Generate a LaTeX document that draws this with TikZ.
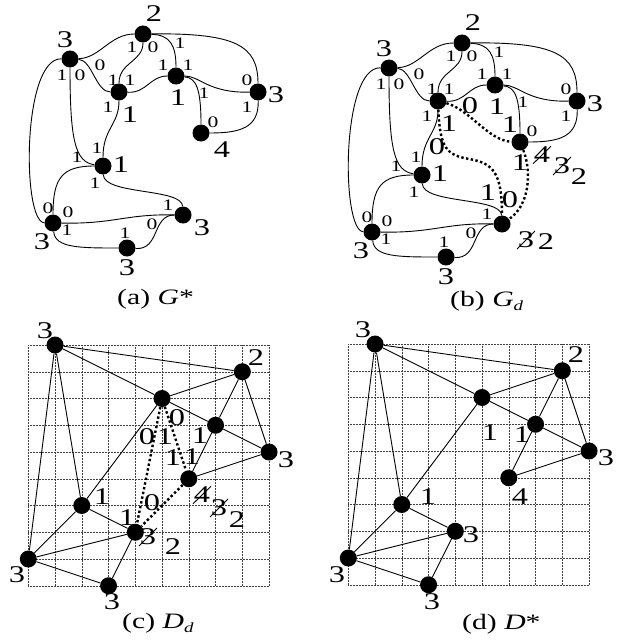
\documentclass[tikz,border=0pt]{standalone}
\usepackage{fontspec}
\usepackage{graphicx}
\setmainfont{Liberation Serif}
\newsavebox\lblbox
\tikzset{
  vtx/.style={circle,fill,inner sep=0pt,minimum size=17pt},
  edg/.style={line width=0.9pt},
  dotedg/.style={line width=2.4pt,dash pattern=on 2.4pt off 2.4pt},
  wide/.style={execute at begin node={\setbox\lblbox\hbox\bgroup},
    execute at end node={\egroup\scalebox{1.35}[1]{\usebox\lblbox}}},
  big/.style={wide,inner sep=0pt,font=\fontsize{24}{24}\selectfont},
  sml/.style={wide,inner sep=0pt,font=\fontsize{16}{16}\selectfont},
  captxt/.style={wide,inner sep=0pt,anchor=base west,font=\fontsize{22}{22}\selectfont},
  struck/.style={big,inner sep=1pt,path picture={\draw[line width=0.9pt] (path picture bounding box.south west) -- (path picture bounding box.north east);}},
  gridln/.style={densely dotted,line width=0.5pt,black!75}
}
% graph G* (panels a and b)
\newcommand\ggraph{%
\node[vtx] (A) at (70,59) {};
\node[vtx] (B) at (143,34) {};
\node[vtx] (C) at (119,92) {};
\node[vtx] (D) at (176,76) {};
\node[vtx] (E) at (258,92) {};
\node[vtx] (F) at (201,133) {};
\node[vtx] (G) at (103,166) {};
\node[vtx] (H) at (53,223) {};
\node[vtx] (I) at (183,215) {};
\node[vtx] (J) at (127,248) {};
\draw[edg] (A) .. controls (100,58) and (110,34) .. (B);
\draw[edg] (B) .. controls (143,62) and (119,62) .. (C);
\draw[edg] (B) .. controls (170,35) and (176,45) .. (D);
\draw[edg] (B) .. controls (235,33) and (258,45) .. (E);
\draw[edg] (A) .. controls (92,60) and (96,92) .. (C);
\draw[edg] (C) .. controls (147,93) and (150,76) .. (D);
\draw[edg] (D) .. controls (200,76) and (208,93) .. (E);
\draw[edg] (D) .. controls (196,78) and (201,88) .. (F);
\draw[edg] (E) .. controls (259,128) and (240,133) .. (F);
\draw[edg] (C) .. controls (119,125) and (103,128) .. (G);
\draw[edg] (A) .. controls (70,140) and (75,162) .. (G);
\draw[edg] (A) .. controls (22,58) and (22,222) .. (H);
\draw[edg] (G) .. controls (62,166) and (53,178) .. (H);
\draw[edg] (G) .. controls (104,195) and (182,188) .. (I);
\draw[edg] (H) .. controls (115,224) and (125,214) .. (I);
\draw[edg] (H) .. controls (55,248) and (80,248) .. (J);
\draw[edg] (J) .. controls (160,250) and (152,215) .. (I);
\node[big] (lA) at (65,40) {3};
\node[big] (lB) at (154,14) {2};
\node[big] (lC) at (130,115) {1};
\node[big] (lD) at (178,98) {1};
\node[big] (lE) at (276,95) {3};
\node[big] (lG) at (121,165) {1};
\node[big] (lH) at (42,242) {3};
\node[big] (lJ) at (127,268) {3};
\node[sml] (s1) at (62,75) {1};
\node[sml] (s2) at (80,75) {0};
\node[sml] (s3) at (100,65) {0};
\node[sml] (s4) at (132,47) {1};
\node[sml] (s5) at (153,47) {0};
\node[sml] (s6) at (180,43) {1};
\node[sml] (s7) at (113,80) {1};
\node[sml] (s8) at (130,80) {1};
\node[sml] (s9) at (108,107) {1};
\node[sml] (s10) at (163,65) {1};
\node[sml] (s11) at (188,65) {1};
\node[sml] (s12) at (204,93) {1};
\node[sml] (s13) at (247,80) {0};
\node[sml] (s14) at (247,107) {1};
\node[sml] (s15) at (213,122) {0};
\node[sml] (s16) at (77,157) {1};
\node[sml] (s17) at (97,148) {1};
\node[sml] (s18) at (95,183) {1};
\node[sml] (s19) at (48,208) {0};
\node[sml] (s20) at (68,212) {0};
\node[sml] (s21) at (67,230) {1};
\node[sml] (s22) at (168,205) {1};
\node[sml] (s23) at (152,224) {0};
\node[sml] (s24) at (125,233) {1};
}
% graph D* on the grid (panels c and d)
\newcommand\dgraph{%
\foreach \k in {0,...,9}{
  \draw[gridln] (\k,0) -- (\k,9);
  \draw[gridln] (0,\k) -- (9,\k);
}
\node[vtx] (P1) at (1,0) {};
\node[vtx] (P2) at (8,1) {};
\node[vtx] (P3) at (5,2) {};
\node[vtx] (P4) at (7,3) {};
\node[vtx] (P5) at (9,4) {};
\node[vtx] (P6) at (6,5) {};
\node[vtx] (P7) at (2,6) {};
\node[vtx] (P8) at (4,7) {};
\node[vtx] (P9) at (0,8) {};
\node[vtx] (P10) at (3,9) {};
\draw[edg] (P1) -- (P2) (P1) -- (P3) (P1) -- (P7) (P1) -- (P9);
\draw[edg] (P2) -- (P3) (P2) -- (P4) (P2) -- (P5);
\draw[edg] (P3) -- (P4) (P3) -- (P7);
\draw[edg] (P4) -- (P5) (P4) -- (P6) (P5) -- (P6);
\draw[edg] (P7) -- (P8) (P7) -- (P9);
\draw[edg] (P8) -- (P9) (P8) -- (P10) (P9) -- (P10);
}
\begin{document}
\begin{tikzpicture}[x=1pt,y=-1pt]
\useasboundingbox (0,0) rectangle (620,642);
% (a)
\begin{scope}[name prefix=a-]
\ggraph
\node[big] (lF) at (222,150) {4};
\node[big] (lI) at (202,228) {3};
\end{scope}
\node[captxt] (capa) at (117,304) {(a) \textit{G}*};
% (b)
\begin{scope}[shift={(319,9)},name prefix=b-]
\ggraph
\draw[dotedg] (C) .. controls (150,100) and (170,132) .. (F);
\draw[dotedg] (C) .. controls (121,140) and (128,146) .. (150,150)
  .. controls (175,154) and (183,165) .. (I);
\draw[dotedg] (F) .. controls (212,160) and (212,195) .. (I);
\end{scope}
\node[big] (b0a) at (470,106) {0};
\node[big] (b1a) at (510,125) {1};
\node[big] (b1b) at (520,163) {1};
\node[struck] (b4) at (542,155) {4};
\node[struck] (b3a) at (562,166) {3};
\node[big] (b2a) at (579,177) {2};
\node[big] (b0b) at (437,147) {0};
\node[big] (b1c) at (488,193) {1};
\node[big] (b0c) at (510,200) {0};
\node[struck] (b3b) at (526,240) {3};
\node[big] (b2b) at (546,242) {2};
\node[captxt] (capb) at (450,306) {(b) \textit{G}\raisebox{-4pt}{\fontsize{14}{14}\selectfont\textit{d}}};
% (c)
\begin{scope}[shift={(28.3,345)},x=26.75pt,y=-26.75pt,name prefix=c-]
\dgraph
\draw[dotedg] (P3) -- (P6) (P3) -- (P8) (P6) -- (P8);
\end{scope}
\node[big] (c3a) at (45,331) {3};
\node[big] (c2a) at (256,358) {2};
\node[big] (c3b) at (286,460) {3};
\node[big] (c1a) at (102,497) {1};
\node[big] (c3c) at (17,575) {3};
\node[big] (c3d) at (112,602) {3};
\node[big] (c1b) at (200,436) {1};
\node[big] (c0a) at (147,437) {0};
\node[big] (c1c) at (165,437) {1};
\node[big] (c0b) at (177,418) {0};
\node[big] (c1d) at (173,458) {1};
\node[big] (c1e) at (192,457) {1};
\node[struck] (c4) at (202,495) {4};
\node[struck] (c3e) at (219,508) {3};
\node[big] (c2b) at (237,520) {2};
\node[big] (c0c) at (152,503) {0};
\node[big] (c1f) at (127,518) {1};
\node[struck] (c3f) at (148,537) {3};
\node[big] (c2c) at (173,547) {2};
\node[captxt] (capc) at (122,628) {(c) \textit{D}\raisebox{-4pt}{\fontsize{14}{14}\selectfont\textit{d}}};
% (d)
\begin{scope}[shift={(348.3,344)},x=26.75pt,y=-26.75pt,name prefix=d-]
\dgraph
\end{scope}
\node[big] (d3a) at (363,330) {3};
\node[big] (d2) at (576,355) {2};
\node[big] (d1a) at (490,433) {1};
\node[big] (d1b) at (522,435) {1};
\node[big] (d3b) at (606,458) {3};
\node[big] (d4) at (520,497) {4};
\node[big] (d1c) at (428,497) {1};
\node[big] (d3c) at (471,535) {3};
\node[big] (d3d) at (337,575) {3};
\node[big] (d3e) at (432,602) {3};
\node[captxt] (capd) at (462,629) {(d) \textit{D}*};
\end{tikzpicture}
\end{document}
